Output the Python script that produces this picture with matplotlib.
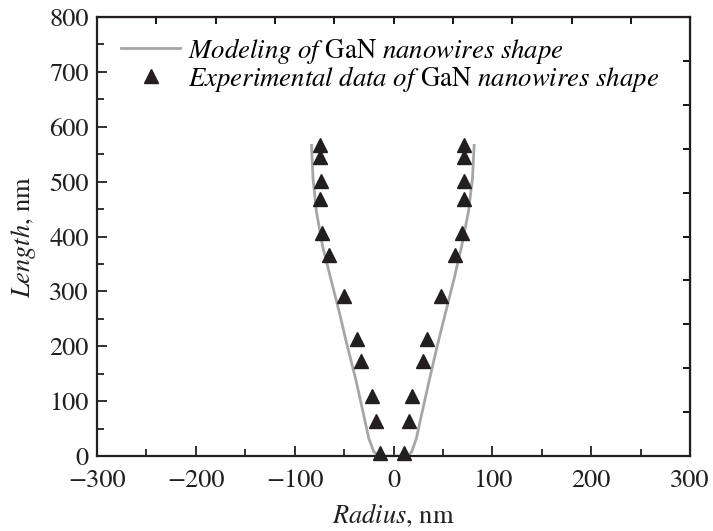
import matplotlib
matplotlib.use("Agg")
import matplotlib.pyplot as plt

# GaN nanowire shape: radius vs length
plt.rcParams['font.family'] = ['STIXGeneral', 'Liberation Serif', 'DejaVu Serif']
plt.rcParams['mathtext.fontset'] = 'stix'
plt.rcParams['axes.unicode_minus'] = True

# modeled profile (left branch then right branch)
model_r = [-83, -81.5, -78, -72, -63.5, -55, -47, -38.5, -31, -25, -20, -14.7,
           14, 18.4, 23, 29, 36.6, 44.3, 52.8, 61.2, 69, 75.7, 79.8, 81.5]
model_len = [566, 506, 445, 384, 323, 263, 202, 142, 81, 32, 8, 0,
             0, 8, 32, 81, 142, 202, 263, 323, 384, 445, 506, 566]

# experimental points
exp_r = [-74.4, -74.4, -73.7, -74, -72.7, -65.3, -49.8, -37.2, -32.6, -22, -18, -13.7,
         71.4, 71.4, 71.4, 71.7, 69, 62.2, 47.8, 34.2, 29.9, 19, 15.7, 10.3]
exp_len = [566, 545, 501, 468, 406, 366, 292, 213, 173, 109, 64, 5,
           566, 545, 501, 468, 406, 366, 292, 213, 173, 109, 64, 5]

fig = plt.figure(figsize=(7.13, 5.31), dpi=100)
ax = fig.add_axes([0.136, 0.141, 0.832, 0.827])

ax.plot(model_r, model_len, color='#a6a6a6', lw=2.0,
        label=r'$\mathit{Modeling\ of}$ GaN $\mathit{nanowires\ shape}$')
ax.plot(exp_r, exp_len, '^', color='#231f20', ms=10, ls='none', clip_on=False,
        label=r'$\mathit{Experimental\ data\ of}$ GaN $\mathit{nanowires\ shape}$')

ax.set_xlim(-300, 300)
ax.set_ylim(0, 800)
ax.set_xticks(range(-300, 301, 100))
ax.set_xticks(range(-250, 300, 100), minor=True)
ax.set_yticks(range(0, 801, 100))
ax.set_yticks(range(50, 800, 100), minor=True)
ax.tick_params(which='both', direction='in', labelsize=19, width=1.3, colors='#231f20')
ax.tick_params(which='major', length=7)
ax.tick_params(which='minor', length=5)
ax.tick_params(axis='x', pad=9)
ax.tick_params(axis='y', pad=6)

for s in ax.spines.values():
    s.set_linewidth(1.6)
    s.set_color('#231f20')

top = ax.secondary_xaxis('top')
top.set_xticks(range(-240, 241, 60))
top.set_xticklabels([])
top.tick_params(direction='in', length=5, width=1.3)
right = ax.secondary_yaxis('right')
right.set_yticks(range(80, 721, 80))
right.set_yticklabels([])
right.tick_params(direction='in', length=5, width=1.3)

ax.set_xlabel(r'$\mathit{Radius}$, nm', fontsize=19, labelpad=7, color='#231f20')
ax.set_ylabel(r'$\mathit{Length}$, nm', fontsize=19, labelpad=8, color='#231f20')

ax.legend(loc='upper left', bbox_to_anchor=(0.0, 1.012), frameon=False, fontsize=19.3,
          handlelength=2.2, handletextpad=0.3, labelspacing=-0.08, borderaxespad=0.5)

fig.savefig('out.png', dpi=100)
